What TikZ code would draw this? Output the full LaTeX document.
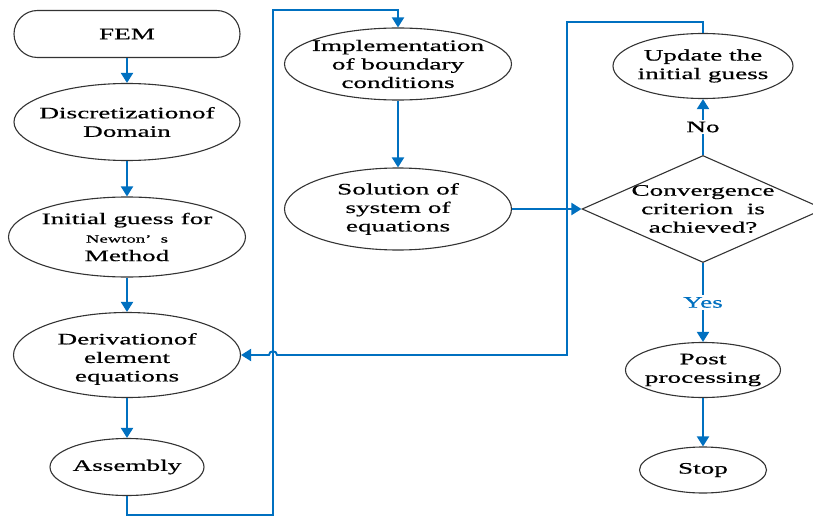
\documentclass[tikz,border=0pt]{standalone}
\usepackage{fontspec}
\setmainfont{Liberation Serif}[FakeStretch=1.7,FakeBold=0.6]
\usetikzlibrary{shapes.geometric,shapes.misc,arrows.meta}
\definecolor{flowblue}{RGB}{0,112,192}
\begin{document}
\begin{tikzpicture}[x=1pt,y=-1pt,
  shp/.style={draw=black!80, line width=1.1pt, inner sep=0pt},
  oval/.style 2 args={shp, ellipse, minimum width=#1pt, minimum height=#2pt},
  txt/.style={align=center, font=\fontsize{16}{18.5}\selectfont, inner sep=0pt},
  flow/.style={draw=flowblue, line width=1.9pt, -{Triangle[width=12pt,length=10pt]}},
  link/.style={draw=flowblue, line width=1.9pt},
  lbl/.style={txt, fill=white, inner sep=2pt},
]
\useasboundingbox (0,0) rectangle (813,516);
% shapes
\node[shp, rounded rectangle, minimum width=226pt, minimum height=47pt] (fem) at (127,34) {};
\node[oval={226}{77}] (disc) at (127,122) {};
\node[oval={237}{80}] (init) at (127,237) {};
\node[oval={227}{85}] (deriv) at (127,355) {};
\node[oval={154}{57}] (asm) at (127,467) {};
\node[oval={227}{72}] (impl) at (398,64) {};
\node[oval={227}{82}] (sol) at (398,209) {};
\node[oval={180}{65}] (upd) at (703,66) {};
\node[shp, diamond, minimum width=242pt, minimum height=107pt] (conv) at (703,209) {};
\node[oval={155}{55}] (post) at (703,370) {};
\node[oval={127}{46}] (stop) at (703,470) {};
% texts
\node[txt] (femt) at (fem) {FEM};
\node[txt] (disct) at (disc) {Discretizationof\\Domain};
\node[txt] (initt) at (init) {Initial guess for\\{\fontsize{11}{12}\selectfont Newton’\ \ s}\\Method};
\node[txt] (derivt) at ([yshift=-4pt]deriv.center) {Derivationof\\element\\equations};
\node[txt] (asmt) at (asm) {Assembly};
\node[txt] (implt) at (impl) {Implementation\\of boundary\\conditions};
\node[txt] (solt) at (sol) {Solution of\\system of\\equations};
\node[txt] (updt) at (upd) {Update the\\initial guess};
\node[txt] (convt) at (conv) {Convergence\\criterion\ \ is\\achieved?};
\node[txt] (postt) at (post) {Post\\processing};
\node[txt] (stopt) at (stop) {Stop};
% bend points
\coordinate (b1) at (127,515);
\coordinate (b2) at (273,515);
\coordinate (b3) at (273,10);
\coordinate (b4) at (398,10);
\coordinate (c1) at (703,22);
\coordinate (c2) at (567,22);
\coordinate (c3) at (567,355);
\coordinate (h1) at (277,355);
\coordinate (h2) at (269,355);
% connectors
\draw[flow] (fem) -- (disc);
\draw[flow] (disc) -- (init);
\draw[flow] (init) -- (deriv);
\draw[flow] (deriv) -- (asm);
\draw[flow] (asm.south) -- (b1) -- (b2) -- (b3) -- (b4) -- (impl.north);
\draw[flow] (impl) -- (sol);
\draw[flow] (sol.east) -- (conv.west);
\draw[flow] (conv.north) -- node[lbl] {No} (upd.south);
\draw[flow] (conv.south) -- node[lbl, text=flowblue] {Yes} (post.north);
\draw[flow] (post) -- (stop);
\draw[flow] (upd.north) -- (c1) -- (c2) -- (c3) -- (h1) .. controls (277,350) and (269,350) .. (h2) -- (deriv.east);
\end{tikzpicture}
\end{document}
